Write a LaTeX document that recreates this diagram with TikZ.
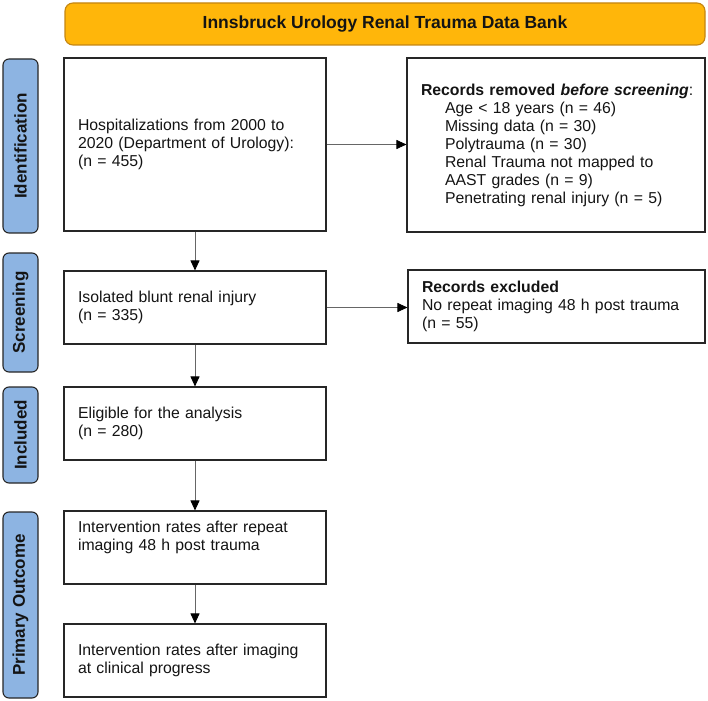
\documentclass[tikz,border=0pt]{standalone}
\usepackage{fontspec}
\setmainfont{Liberation Sans}
\usetikzlibrary{arrows.meta}
\definecolor{hdrfill}{RGB}{255,182,10}
\definecolor{hdrline}{RGB}{196,134,18}
\definecolor{labfill}{RGB}{141,180,226}
\definecolor{txtcol}{RGB}{20,20,20}
\begin{document}
\begin{tikzpicture}[x=1pt,y=-1pt,
  box/.style={draw=black!85, line width=1.1pt, fill=white, align=left,
    inner xsep=14pt, inner ysep=0pt, minimum width=262pt, minimum height=73pt,
    text width=234pt, font=\fontsize{15.8}{18}\selectfont, text=txtcol},
  sidelab/.style={draw=black!85, line width=1.1pt, fill=labfill, rounded corners=6pt,
    rotate=90, minimum height=35pt, inner sep=0pt,
    font=\bfseries\fontsize{17}{20}\selectfont, text=txtcol},
  hdr/.style={draw=hdrline, line width=1.1pt, fill=hdrfill, rounded corners=8pt,
    minimum width=640pt, minimum height=42pt, inner sep=0pt,
    font=\bfseries\fontsize{17.5}{20}\selectfont, text=txtcol},
  arr/.style={draw=black!60, line width=0.9pt,
    -{Triangle[length=10pt,width=9pt,color=black]}}
]
\useasboundingbox (0,0) rectangle (708,700);

\node[hdr] (title) at (385,24) {Innsbruck Urology Renal Trauma Data Bank};

\node[sidelab, minimum width=174pt] (lid) at (20.5,146) {Identification};
\node[sidelab, minimum width=119pt] (lscr) at (20.5,312.5) {Screening};
\node[sidelab, minimum width=96pt] (linc) at (20.5,435) {Included};
\node[sidelab, minimum width=186pt] (lpri) at (20.5,605) {Primary Outcome};

\node[box, minimum height=173pt] (hosp) at (195,144.5)
  {Hospitalizations from 2000 to\\2020 (Department of Urology):\\(n = 455)};
\node[box, minimum width=298pt, minimum height=174pt, text width=270pt] (rem) at (556,145)
  {\mbox{\textbf{Records removed \textit{before screening}}:}\\
   \hspace*{24pt}Age < 18 years (n = 46)\\
   \hspace*{24pt}Missing data (n = 30)\\
   \hspace*{24pt}Polytrauma (n = 30)\\
   \hspace*{24pt}Renal Trauma not mapped to\\
   \hspace*{24pt}AAST grades (n = 9)\\
   \hspace*{24pt}Penetrating renal injury (n = 5)};
\node[box] (iso) at (195,307.5) {Isolated blunt renal injury\\(n = 335)};
\node[box, minimum width=297pt, text width=269pt] (exc) at (556.5,306.5)
  {\textbf{Records excluded}\\No repeat imaging 48 h post trauma\\(n = 55)};
\node[box] (elig) at (195,423.5) {Eligible for the analysis\\(n = 280)};
\node[box] (int1) at (195,547.5) {Intervention rates after repeat\\imaging 48 h post trauma\\ \strut};
\node[box] (int2) at (195,660.5) {Intervention rates after imaging\\at clinical progress};

\draw[arr] (hosp.east) -- (hosp.east -| rem.west);
\draw[arr] (hosp.south) -- (iso.north);
\draw[arr] (iso.east) -- (iso.east -| exc.west);
\draw[arr] (iso.south) -- (elig.north);
\draw[arr] (elig.south) -- (int1.north);
\draw[arr] (int1.south) -- (int2.north);
\end{tikzpicture}
\end{document}
